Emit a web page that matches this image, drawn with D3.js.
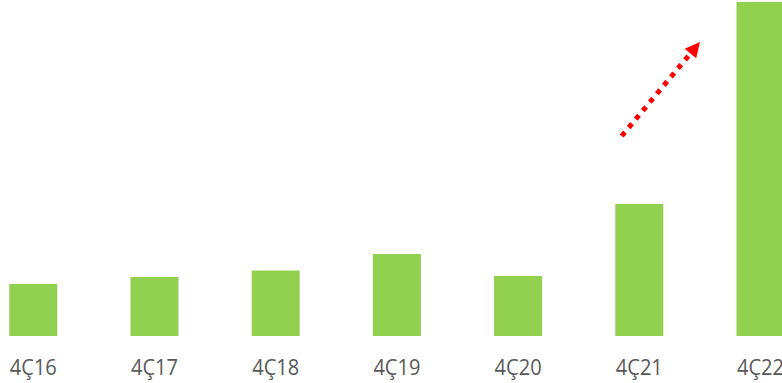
<!DOCTYPE html>
<html>
<head>
<meta charset="utf-8">
<script src="https://cdn.jsdelivr.net/npm/d3@7"></script>
<style>
  body { margin: 0; background: #fff; }
  svg { display: block; }
</style>
</head>
<body>
<div class="chart"></div>
<script>
const quarters = ["4Ç16", "4Ç17", "4Ç18", "4Ç19", "4Ç20", "4Ç21", "4Ç22"];
const values = [52, 59, 65.5, 82, 60, 132, 334];

const width = 782, height = 383;
const baseline = 336;

let svg = d3.select(".chart").append("svg")
    .attr("width", width)
    .attr("height", height);

let x = d3.scaleBand()
    .domain(quarters)
    .range([9.3, 784.5])
    .paddingInner(0.604)
    .paddingOuter(0);

let y = d3.scaleLinear()
    .domain([0, 334])
    .range([baseline, 2]);

// bars
svg.selectAll(".bar")
    .data(quarters.map((q, i) => ({q: q, v: values[i]})))
    .enter().append("rect")
    .attr("class", "bar")
    .attr("x", d => x(d.q))
    .attr("width", x.bandwidth())
    .attr("y", d => y(d.v))
    .attr("height", d => baseline - y(d.v))
    .attr("fill", "#92D050");

// category labels (last one runs off the right edge, as in the original)
let xAxis = svg.append("g")
    .attr("transform", "translate(0," + baseline + ")")
    .call(d3.axisBottom(x).tickSize(0).tickPadding(0));
xAxis.select(".domain").remove();
xAxis.selectAll("text")
    .attr("dy", null)
    .attr("y", 38.5)
    .attr("fill", "#595959")
    .style("font-family", "'Open Sans', sans-serif")
    .style("font-size", "21px")
    .attr("textLength", 47)
    .attr("lengthAdjust", "spacingAndGlyphs");

// dotted growth arrow next to 4Ç21
let ax = x("4Ç21") + 6.4, ay = 136;
let bx = ax + 78.3, by = 42;
let ang = Math.atan2(by - ay, bx - ax);
let headLen = 15, headHalf = 7.5;
let lineEnd = [bx - Math.cos(ang) * headLen, by - Math.sin(ang) * headLen];

svg.append("line")
    .attr("x1", ax).attr("y1", ay)
    .attr("x2", lineEnd[0]).attr("y2", lineEnd[1])
    .attr("stroke", "#FF0000")
    .attr("stroke-width", 5)
    .attr("stroke-dasharray", "5 6");

let px = -Math.sin(ang), py = Math.cos(ang);
svg.append("path")
    .attr("d", d3.line()([
        [bx, by],
        [lineEnd[0] + px * headHalf, lineEnd[1] + py * headHalf],
        [lineEnd[0] - px * headHalf, lineEnd[1] - py * headHalf]
    ]) + "Z")
    .attr("fill", "#FF0000");
</script>
</body>
</html>
